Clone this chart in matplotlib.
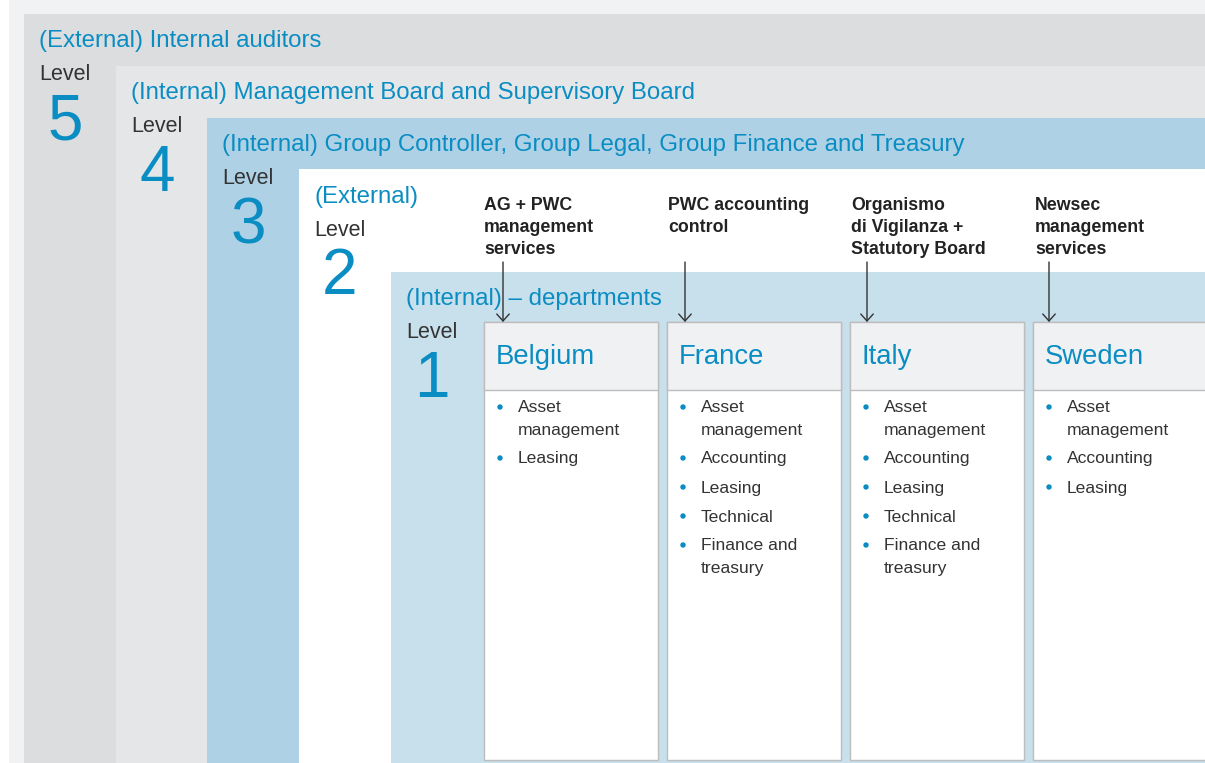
"""Schema dei cinque livelli di controllo, ricostruito con matplotlib."""

import textwrap

import matplotlib.pyplot as plt
from matplotlib.patches import Rectangle, Circle

# --- dati -----------------------------------------------------------------
LEVEL_NUMBERS = [5, 4, 3, 2, 1]
LEVEL_TITLES = [
    "(External) Internal auditors",
    "(Internal) Management Board and Supervisory Board",
    "(Internal) Group Controller, Group Legal, Group Finance and Treasury",
    "(External)",
    "(Internal) – departments",
]
COUNTRIES = ["Belgium", "France", "Italy", "Sweden"]
DEPARTMENTS = [
    ["Asset management", "Leasing"],
    ["Asset management", "Accounting", "Leasing", "Technical", "Finance and treasury"],
    ["Asset management", "Accounting", "Leasing", "Technical", "Finance and treasury"],
    ["Asset management", "Accounting", "Leasing"],
]
OVERSIGHT = [
    "AG + PWC\nmanagement\nservices",
    "PWC accounting\ncontrol",
    "Organismo\ndi Vigilanza +\nStatutory Board",
    "Newsec\nmanagement\nservices",
]

# --- stile -----------------------------------------------------------------
W, H = 1205, 763
BLUE = "#0a8dc3"
DARK = "#333333"
LEVEL_COLORS = ["#dcdddf", "#e5e6e8", "#aed1e6", "#ffffff", "#c8dfec"]
LEVEL_LEFT = [24, 116, 207, 299, 391]
LEVEL_TOP = [14, 66, 118, 169, 272]

plt.rcParams["font.family"] = ["Liberation Sans", "DejaVu Sans"]

fig = plt.figure(figsize=(W / 100, H / 100), dpi=100)
ax = fig.add_axes([0, 0, 1, 1])
ax.set_xlim(0, W)
ax.set_ylim(H, 0)
ax.axis("off")

# sfondo
ax.add_patch(Rectangle((9, 0), W, H, facecolor="#f1f2f4", edgecolor="none"))

# livelli annidati
for i, (num, title) in enumerate(zip(LEVEL_NUMBERS, LEVEL_TITLES)):
    left, top = LEVEL_LEFT[i], LEVEL_TOP[i]
    ax.add_patch(Rectangle((left, top), W - left + 10, H - top + 10,
                           facecolor=LEVEL_COLORS[i], edgecolor="none"))
    ax.text(left + 15, top + 27.5, title, color=BLUE, fontsize=17.3,
            va="center", ha="left")
    ax.text(left + 15, top + 61, "Level", color=DARK, fontsize=15.5,
            va="center", ha="left")
    ax.text(left + 41, top + 108, str(num), color=BLUE, fontsize=46,
            va="center", ha="center")

# riquadri dei paesi
box_top, head_bottom, box_bottom = 322, 390, 760
for i, (country, items, note) in enumerate(zip(COUNTRIES, DEPARTMENTS, OVERSIGHT)):
    x0 = 484 + 183 * i
    width = 174 if i < 3 else 200
    ax.add_patch(Rectangle((x0, box_top), width, box_bottom - box_top,
                           facecolor="white", edgecolor="#bdbdbd", lw=1))
    ax.add_patch(Rectangle((x0, box_top), width, head_bottom - box_top,
                           facecolor="#f0f1f3", edgecolor="#bdbdbd", lw=1))
    ax.text(x0 + 12, 357, country, color=BLUE, fontsize=19.8,
            va="center", ha="left")

    # elenco puntato
    y = 408
    for item in items:
        ax.add_patch(Circle((x0 + 16, y - 1), 2.7, facecolor=BLUE, edgecolor="none"))
        for line in textwrap.wrap(item, 12):
            ax.text(x0 + 34, y, line, color=DARK, fontsize=12.6,
                    va="center", ha="left")
            y += 22
        y += 7

    # nota di controllo esterno con freccia
    tx = x0 + [0, 1, 1, 2][i]
    for k, line in enumerate(note.split("\n")):
        ax.text(tx, 206 + 21.5 * k, line, color="#222222", fontsize=12.8,
                fontweight="bold", va="center", ha="left")
    ax_x = x0 + [19, 18, 17, 16][i]
    ax.annotate("", xy=(ax_x, box_top), xytext=(ax_x, 262),
                arrowprops=dict(arrowstyle="->,head_length=0.5,head_width=0.45",
                                color=DARK, lw=1, shrinkA=0, shrinkB=0))

fig.savefig("out.png", dpi=100)
